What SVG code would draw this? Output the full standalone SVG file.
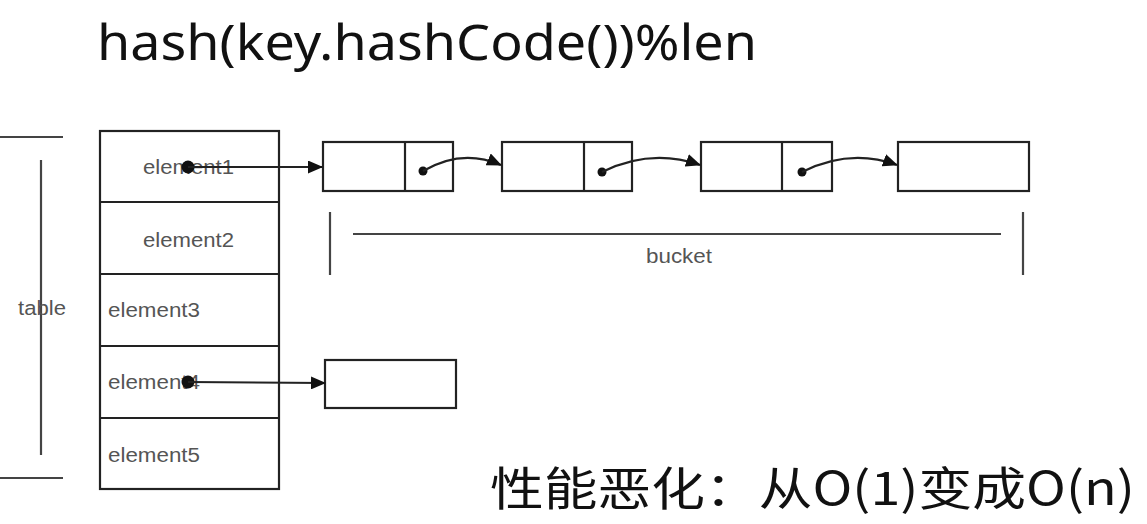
<svg xmlns="http://www.w3.org/2000/svg" width="1147" height="524" viewBox="0 0 1147 524">
<style>
.box{fill:#fff;stroke:#222;stroke-width:2.2}
.ln{stroke:#222;stroke-width:2.2;fill:none}
.br{stroke:#444;stroke-width:2.2;fill:none}
.lbl{font-family:"Liberation Sans",Arial,sans-serif;font-size:20.5px;fill:#555}
.big{font-family:"Noto Sans","Open Sans",sans-serif;fill:#111}
.cjk{font-family:"Noto Sans CJK SC","Noto Sans",sans-serif;fill:#111}
</style>
<defs>
<marker id="ah" markerWidth="15" markerHeight="13" refX="14" refY="6.5" orient="auto" markerUnits="userSpaceOnUse">
<path d="M0,0 L15,6.5 L0,13 Z" fill="#111"/>
</marker>
</defs>
<rect width="1147" height="524" fill="#fff"/>
<text class="big" x="97" y="60" font-size="50" textLength="660" lengthAdjust="spacingAndGlyphs">hash(key.hashCode())%len</text>

<g id="table-bracket">
<line class="br" x1="0" y1="137" x2="63" y2="137"/>
<line class="br" x1="0" y1="478" x2="63" y2="478"/>
<line class="br" x1="41" y1="160" x2="41" y2="455"/>
<text class="lbl" x="18" y="315" font-size="21" textLength="48" lengthAdjust="spacingAndGlyphs">table</text>
</g>

<g id="table">
<rect class="box" x="100" y="131" width="179" height="358"/>
<line class="ln" x1="100" y1="202" x2="279" y2="202"/>
<line class="ln" x1="100" y1="274" x2="279" y2="274"/>
<line class="ln" x1="100" y1="346" x2="279" y2="346"/>
<line class="ln" x1="100" y1="418" x2="279" y2="418"/>
<text class="lbl" x="143" y="174" textLength="91" lengthAdjust="spacingAndGlyphs">element1</text>
<text class="lbl" x="143" y="247" textLength="91" lengthAdjust="spacingAndGlyphs">element2</text>
<text class="lbl" x="108" y="317" textLength="92" lengthAdjust="spacingAndGlyphs">element3</text>
<text class="lbl" x="108" y="389" textLength="92" lengthAdjust="spacingAndGlyphs">element4</text>
<text class="lbl" x="108" y="462" textLength="92" lengthAdjust="spacingAndGlyphs">element5</text>
</g>

<g id="node1">
<rect class="box" x="323" y="142" width="130" height="49"/>
<line class="ln" x1="405" y1="142" x2="405" y2="191"/>
</g>
<g id="node2">
<rect class="box" x="502" y="142" width="130" height="49"/>
<line class="ln" x1="584" y1="142" x2="584" y2="191"/>
</g>
<g id="node3">
<rect class="box" x="701" y="142" width="131" height="49"/>
<line class="ln" x1="782" y1="142" x2="782" y2="191"/>
</g>
<g id="node4">
<rect class="box" x="898" y="142" width="131" height="49"/>
</g>
<g id="node5">
<rect class="box" x="325" y="360" width="131" height="48"/>
</g>

<g id="bucket">
<line class="br" x1="330" y1="212" x2="330" y2="275"/>
<line class="br" x1="1023" y1="212" x2="1023" y2="275"/>
<line class="br" x1="353" y1="234" x2="1001" y2="234"/>
<text class="lbl" x="646" y="263" font-size="21" textLength="66" lengthAdjust="spacingAndGlyphs">bucket</text>
</g>

<g id="connectors">
<circle cx="188" cy="167" r="6.5" fill="#111"/>
<line class="ln" x1="188" y1="167" x2="322" y2="167" marker-end="url(#ah)"/>
<circle cx="188" cy="382" r="6.5" fill="#111"/>
<line class="ln" x1="188" y1="382" x2="325" y2="383" marker-end="url(#ah)"/>
<circle cx="423" cy="171" r="4.5" fill="#111"/>
<path class="ln" d="M423,171 Q462,148 501,165" marker-end="url(#ah)"/>
<circle cx="602" cy="172" r="4.5" fill="#111"/>
<path class="ln" d="M602,172 Q651,148 700,165" marker-end="url(#ah)"/>
<circle cx="802" cy="172" r="4.5" fill="#111"/>
<path class="ln" d="M802,172 Q850,148 897,165" marker-end="url(#ah)"/>
</g>

<text class="cjk" x="490" y="505" font-size="46" textLength="645" lengthAdjust="spacingAndGlyphs">性能恶化：从O(1)变成O(n)</text>
</svg>
